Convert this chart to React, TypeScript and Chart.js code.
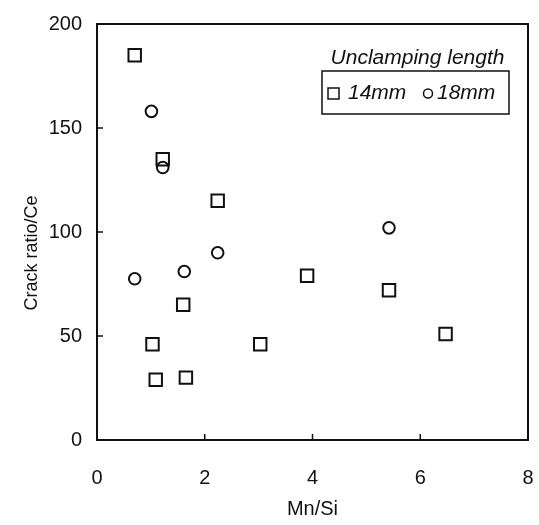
import React, { useEffect, useRef } from 'react';
import { Chart, registerables } from 'chart.js';

Chart.register(...registerables);

const xTickValues = [0, 2, 4, 6, 8];
const yTickValues = [0, 50, 100, 150, 200];
const seriesLabels = ['14mm', '18mm'];
const legendTitle = 'Unclamping length';
const xAxisTitle = 'Mn/Si';
const yAxisTitle = 'Crack ratio/Ce';

const mm14X = [0.7, 1.22, 2.24, 1.6, 1.03, 1.09, 1.65, 3.03, 3.9, 5.42, 6.47];
const mm14Y = [185, 135, 115, 65, 46, 29, 30, 46, 79, 72, 51];
const mm18X = [1.01, 1.22, 0.7, 1.62, 2.24, 5.42];
const mm18Y = [158, 131, 77.5, 81, 90, 102];

const INK = '#111';
const FONT = '"Liberation Sans", Arial, Helvetica, sans-serif';

const framePlugin = {
  id: 'frame',
  afterDraw(chart: any) {
    const { ctx, chartArea: a, scales } = chart;
    ctx.save();
    ctx.strokeStyle = INK;
    ctx.lineWidth = 2;
    ctx.strokeRect(a.left, a.top, a.right - a.left, a.bottom - a.top);
    ctx.lineWidth = 1.5;
    ctx.beginPath();
    for (const v of xTickValues.slice(1, -1)) {
      const px = scales.x.getPixelForValue(v);
      ctx.moveTo(px, a.bottom);
      ctx.lineTo(px, a.bottom - 6);
    }
    for (const v of yTickValues.slice(1, -1)) {
      const py = scales.y.getPixelForValue(v);
      ctx.moveTo(a.left, py);
      ctx.lineTo(a.left + 6, py);
    }
    ctx.stroke();
    // rotated y-axis title
    ctx.fillStyle = INK;
    ctx.font = `18px ${FONT}`;
    ctx.textAlign = 'center';
    ctx.textBaseline = 'middle';
    ctx.translate(32, (a.top + a.bottom) / 2 + 21);
    ctx.rotate(-Math.PI / 2);
    ctx.fillText(yAxisTitle, 0, 0);
    ctx.restore();
  },
};

const legendPlugin = {
  id: 'boxLegend',
  afterDraw(chart: any) {
    const { ctx, chartArea: a } = chart;
    const ds = chart.data.datasets;
    const boxL = a.right - 206;
    const boxR = a.right - 19;
    const boxT = a.top + 47;
    const boxB = a.top + 90;
    const midY = (boxT + boxB) / 2 + 1;
    ctx.save();
    ctx.fillStyle = INK;
    ctx.strokeStyle = INK;
    ctx.font = `italic 21px ${FONT}`;
    ctx.textAlign = 'center';
    ctx.textBaseline = 'middle';
    ctx.fillText(legendTitle, (boxL + boxR) / 2 + 2, a.top + 34);
    ctx.lineWidth = 1.5;
    ctx.strokeRect(boxL, boxT, boxR - boxL, boxB - boxT);
    ctx.textAlign = 'left';
    ctx.strokeRect(boxL + 6, midY - 5.5, 11, 11);
    ctx.fillText(ds[0].label, boxL + 26, midY);
    ctx.beginPath();
    ctx.arc(boxL + 106, midY, 4.5, 0, Math.PI * 2);
    ctx.stroke();
    ctx.fillText(ds[1].label, boxL + 115, midY);
    ctx.restore();
  },
};

export default function App() {
  const ref = useRef<HTMLCanvasElement | null>(null);
  useEffect(() => {
    document.body.style.margin = '0';
    const canvas = ref.current;
    if (!canvas) return;
    const chart = new Chart(canvas, {
      type: 'scatter',
      data: {
        datasets: [
          {
            label: seriesLabels[0],
            data: mm14X.map((x, i) => ({ x, y: mm14Y[i] })),
            pointStyle: 'rect',
            pointRadius: 8.8,
            borderColor: INK,
            backgroundColor: 'rgba(0,0,0,0)',
            borderWidth: 2,
          },
          {
            label: seriesLabels[1],
            data: mm18X.map((x, i) => ({ x, y: mm18Y[i] })),
            pointStyle: 'circle',
            pointRadius: 5.8,
            borderColor: INK,
            backgroundColor: 'rgba(0,0,0,0)',
            borderWidth: 2,
          },
        ],
      },
      options: {
        responsive: false,
        animation: false,
        layout: { padding: { top: 24, right: 11, left: 0, bottom: 0 } },
        plugins: { legend: { display: false }, tooltip: { enabled: false } },
        scales: {
          x: {
            type: 'linear',
            min: 0,
            max: 8,
            grid: { display: false },
            border: { display: false },
            ticks: {
              stepSize: 2,
              padding: 18,
              color: INK,
              font: { family: FONT, size: 20 },
              callback: (v: any) => (xTickValues.includes(v) ? String(v) : ''),
            },
            title: {
              display: true,
              text: xAxisTitle,
              color: INK,
              font: { family: FONT, size: 20 },
              padding: 4,
            },
            afterFit: (s: any) => {
              s.height = 85;
              s.paddingLeft = 0;
              s.paddingRight = 0;
            },
          },
          y: {
            type: 'linear',
            min: 0,
            max: 200,
            grid: { display: false },
            border: { display: false },
            ticks: {
              stepSize: 50,
              padding: 7,
              color: INK,
              font: { family: FONT, size: 20 },
              callback: (v: any) => (yTickValues.includes(v) ? String(v) : ''),
            },
            afterFit: (s: any) => {
              s.width = 97;
              s.paddingTop = 0;
              s.paddingBottom = 0;
            },
          },
        },
      },
      plugins: [framePlugin, legendPlugin],
    });
    return () => chart.destroy();
  }, []);
  return <canvas ref={ref} width={539} height={525} style={{ display: 'block' }} />;
}
